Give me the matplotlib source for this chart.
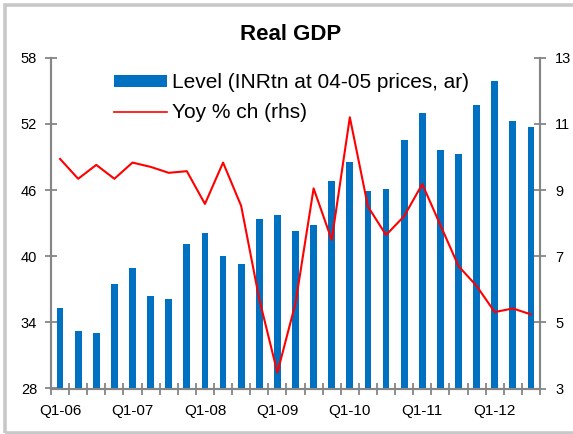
import matplotlib
matplotlib.use("Agg")
import matplotlib.pyplot as plt
from matplotlib.patches import Rectangle, Patch
from matplotlib.lines import Line2D
import numpy as np

plt.rcParams['font.family'] = ['Liberation Sans', 'DejaVu Sans']

# quarterly data, Q1-06 .. Q3-12
quarters = ['Q1-06', 'Q2-06', 'Q3-06', 'Q4-06',
            'Q1-07', 'Q2-07', 'Q3-07', 'Q4-07',
            'Q1-08', 'Q2-08', 'Q3-08', 'Q4-08',
            'Q1-09', 'Q2-09', 'Q3-09', 'Q4-09',
            'Q1-10', 'Q2-10', 'Q3-10', 'Q4-10',
            'Q1-11', 'Q2-11', 'Q3-11', 'Q4-11',
            'Q1-12', 'Q2-12', 'Q3-12']
level = [35.3, 33.2, 33.0, 37.5, 38.9, 36.4, 36.1, 41.1, 42.1, 40.0, 39.3, 43.4, 43.7, 42.3,
         42.8, 46.8, 48.5, 45.9, 46.1, 50.5, 53.0, 49.6, 49.3, 53.7, 55.9, 52.3, 51.7]
yoy = [9.94, 9.34, 9.76, 9.34, 9.83, 9.70, 9.52, 9.57, 8.58, 9.83, 8.52, 5.7, 3.48, 5.58,
       9.05, 7.49, 11.2, 8.5, 7.64, 8.21, 9.18, 7.94, 6.7, 6.1, 5.31, 5.42, 5.24]
shown_labels = ['Q1-06', 'Q1-07', 'Q1-08', 'Q1-09', 'Q1-10', 'Q1-11', 'Q1-12']
left_ticks = [28, 34, 40, 46, 52, 58]
right_ticks = [3, 5, 7, 9, 11, 13]

bar_color = '#0070C0'
axis_gray = '#868686'

fig = plt.figure(figsize=(5.73, 4.34), dpi=100)
ax = fig.add_axes([51 / 573, 1 - 388.5 / 434, 489 / 573, 330.8 / 434])
ax2 = ax.twinx()

x = np.arange(len(quarters))
ax.bar(x, level, width=0.38, color=bar_color, zorder=2)
ax2.plot(x, yoy, color='#FF0000', lw=1.5, zorder=3)

ax.set_xlim(-0.5, len(quarters) - 0.5)
ax.set_ylim(28, 58)
ax2.set_ylim(3, 13)
ax.set_yticks(left_ticks)
ax2.set_yticks(right_ticks)

# labels at bar centres, tick marks between categories
label_pos = [quarters.index(q) for q in shown_labels]
ax.set_xticks(label_pos)
ax.set_xticklabels(shown_labels)
ax.set_xticks(np.arange(len(quarters) + 1) - 0.5, minor=True)
ax.tick_params(axis='x', which='major', length=0, pad=11, labelsize=11)
ax.tick_params(axis='x', which='minor', direction='inout', length=8, width=1.3, color=axis_gray)
ax.tick_params(axis='y', direction='inout', length=8, width=1.3, color=axis_gray, pad=6, labelsize=10.5)
ax2.tick_params(axis='y', direction='inout', length=8, width=1.3, color=axis_gray, pad=7, labelsize=10.5)

for a in (ax, ax2):
    a.spines['top'].set_visible(False)
    for s in ('left', 'right', 'bottom'):
        a.spines[s].set_color(axis_gray)
        a.spines[s].set_linewidth(1.5)
    a.set_facecolor('none')

fig.text(291 / 573, 1 - 35 / 434, 'Real GDP', ha='center', va='center',
         fontsize=16, fontweight='bold')

handles = [Patch(facecolor=bar_color, edgecolor='none'),
           Line2D([], [], color='#FF0000', lw=1.2)]
ax2.legend(handles, ['Level (INRtn at 04-05 prices, ar)', 'Yoy % ch (rhs)'],
           loc='upper left', bbox_to_anchor=(114 / 573, 1 - 73.5 / 434),
           bbox_transform=fig.transFigure, frameon=False, fontsize=15,
           borderpad=0, borderaxespad=0, handlelength=2.55, handleheight=0.53,
           handletextpad=0.25, labelspacing=0.52)

# light grey frame round the chart
fig.patches.append(Rectangle((5.3 / 573, 1.5 / 434), 1.2, 1 - 6.5 / 434,
                             transform=fig.transFigure, fill=False,
                             edgecolor='#c8c8c8', lw=2.6))

fig.savefig('out.png', dpi=100)
